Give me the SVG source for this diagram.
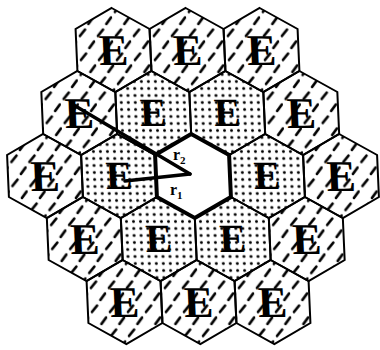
<svg xmlns="http://www.w3.org/2000/svg" width="380" height="350" viewBox="0 0 380 350">
<defs>
<pattern id="hatch" patternUnits="userSpaceOnUse" width="18" height="24">
<line x1="3" y1="10" x2="8.5" y2="3.5" stroke="#000" stroke-width="2.5" stroke-linecap="round"/>
<line x1="12" y1="22" x2="17" y2="15.5" stroke="#000" stroke-width="2.5" stroke-linecap="round"/>
</pattern>
<pattern id="dots" patternUnits="userSpaceOnUse" width="7" height="7">
<circle cx="3.5" cy="3.5" r="1.5" fill="#000"/>
</pattern>
<polygon id="hex" points="0,-42 37,-21 37,21 0,42 -37,21 -37,-21"/>
</defs>
<style>
.h use{fill:url(#hatch);stroke:#000;stroke-width:2}
.d use{fill:url(#dots);stroke:#000;stroke-width:2}
.c use{fill:#fff;stroke:#000;stroke-width:4}
.e{font-family:"Liberation Serif",serif;font-weight:bold;font-size:44px;text-anchor:middle;fill:#000}
.d .e{font-size:40px}
.lab{font-family:"Liberation Serif",serif;font-weight:bold;font-size:16px;fill:#000}
.conn line{stroke:#000;stroke-width:3.5;stroke-linecap:round}
</style>
<rect width="380" height="350" fill="#fff"/>
<g transform="translate(193,176) skewX(2.5)">
<g id="h1" class="h" transform="translate(-74,-126)"><use href="#hex"/><text class="e" y="15">E</text></g>
<g id="h2" class="h" transform="translate(0,-126)"><use href="#hex"/><text class="e" y="15">E</text></g>
<g id="h3" class="h" transform="translate(74,-126)"><use href="#hex"/><text class="e" y="15">E</text></g>
<g id="h4" class="h" transform="translate(-111,-63)"><use href="#hex"/><text class="e" y="15">E</text></g>
<g id="d1" class="d" transform="translate(-37,-63)"><use href="#hex"/><text class="e" y="13">E</text></g>
<g id="d2" class="d" transform="translate(37,-63)"><use href="#hex"/><text class="e" y="13">E</text></g>
<g id="h5" class="h" transform="translate(111,-63)"><use href="#hex"/><text class="e" y="15">E</text></g>
<g id="h6" class="h" transform="translate(-148,0)"><use href="#hex"/><text class="e" y="15">E</text></g>
<g id="d3" class="d" transform="translate(-74,0)"><use href="#hex"/><text class="e" y="13">E</text></g>
<g id="center" class="c" transform="translate(0,0)"><use href="#hex"/></g>
<g id="d4" class="d" transform="translate(74,0)"><use href="#hex"/><text class="e" y="13">E</text></g>
<g id="h7" class="h" transform="translate(148,0)"><use href="#hex"/><text class="e" y="15">E</text></g>
<g id="h8" class="h" transform="translate(-111,63)"><use href="#hex"/><text class="e" y="15">E</text></g>
<g id="d5" class="d" transform="translate(-37,63)"><use href="#hex"/><text class="e" y="13">E</text></g>
<g id="d6" class="d" transform="translate(37,63)"><use href="#hex"/><text class="e" y="13">E</text></g>
<g id="h9" class="h" transform="translate(111,63)"><use href="#hex"/><text class="e" y="15">E</text></g>
<g id="h10" class="h" transform="translate(-74,126)"><use href="#hex"/><text class="e" y="15">E</text></g>
<g id="h11" class="h" transform="translate(0,126)"><use href="#hex"/><text class="e" y="15">E</text></g>
<g id="h12" class="h" transform="translate(74,126)"><use href="#hex"/><text class="e" y="15">E</text></g>
</g>
<g id="connectors" class="conn">
<line x1="72" y1="104" x2="190" y2="174"/>
<line x1="125" y1="181" x2="190" y2="174"/>
</g>
<g id="labels">
<text class="lab" x="173" y="160">r<tspan dy="4" font-size="11">2</tspan></text>
<text class="lab" x="170" y="195">r<tspan dy="4" font-size="11">1</tspan></text>
</g>
</svg>
